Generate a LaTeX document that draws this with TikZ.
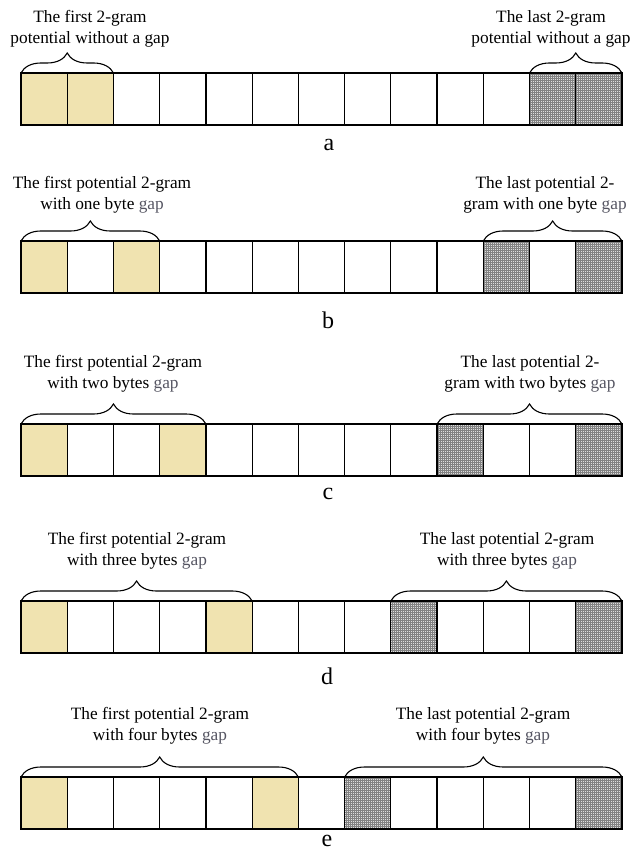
\documentclass[tikz,border=0pt]{standalone}
\usepackage{fontspec}
\setmainfont{Liberation Serif}
\usetikzlibrary{decorations.pathreplacing,patterns.meta}
\definecolor{beige}{RGB}{240,227,176}
\definecolor{gapc}{RGB}{85,85,98}
\definecolor{hatchbg}{RGB}{222,222,222}
\definecolor{hatchln}{RGB}{130,130,130}
\tikzset{
  cell/.style={draw=black, line width=1.2pt, minimum width=46.23pt, minimum height=52pt,
    inner sep=0pt, outer sep=0pt, anchor=north west},
  firstcell/.style={cell, fill=beige},
  lastcell/.style={cell, preaction={fill=hatchbg},
    pattern={Lines[angle=0,distance=2pt,line width=0.35pt]}, pattern color=hatchln,
    postaction={pattern={Lines[angle=90,distance=2pt,line width=0.35pt]}, pattern color=hatchln},
    postaction={draw=black, line width=1.2pt}},
  brc/.style={decorate, decoration={brace, amplitude=20pt}, line width=1.1pt},
  lbl/.style={font=\fontsize{17.3}{21.5}\selectfont, align=center, inner sep=0pt},
  sublbl/.style={font=\fontsize{24}{26}\selectfont, inner sep=0pt}
}
\newcommand{\gapw}{\textcolor{gapc}{gap}}
\newcommand{\byterow}[3]{%
  \foreach \i in {0,...,12}{%
    \pgfmathtruncatemacro\kind{(\i==0 || \i==#3+1) ? 1 : ((\i==12 || \i==11-#3) ? 2 : 0)}%
    \ifcase\kind
      \node[cell] (#1\i) at ({21pt+\i*46.23pt},{-#2pt}) {};
    \or
      \node[firstcell] (#1\i) at ({21pt+\i*46.23pt},{-#2pt}) {};
    \or
      \node[lastcell] (#1\i) at ({21pt+\i*46.23pt},{-#2pt}) {};
    \fi
  }%
}
\begin{document}
\begin{tikzpicture}
\useasboundingbox (0,0) rectangle (632pt,-858pt);

% row a
\byterow{a}{73}{0}
\draw[brc] (a0.north west) -- (a1.north east);
\draw[brc] (a11.north west) -- (a12.north east);
\node[lbl] (aft) at (90pt,-29pt) {The first 2-gram\\potential without a gap};
\node[lbl] (alt) at (551pt,-29pt) {The last 2-gram\\potential without a gap};
\node[sublbl] (alab) at (329pt,-145pt) {a};

% row b
\byterow{b}{241}{1}
\draw[brc] (b0.north west) -- (b2.north east);
\draw[brc] (b10.north west) -- (b12.north east);
\node[lbl] (bft) at (102pt,-195pt) {The first potential 2-gram\\with one byte \gapw};
\node[lbl] (blt) at (545pt,-195pt) {The last potential 2-\\gram with one byte \gapw};
\node[sublbl] (blab) at (328pt,-320pt) {b};

% row c
\byterow{c}{424}{2}
\draw[brc] (c0.north west) -- (c3.north east);
\draw[brc] (c9.north west) -- (c12.north east);
\node[lbl] (cft) at (113pt,-374pt) {The first potential 2-gram\\with two bytes \gapw};
\node[lbl] (clt) at (530pt,-374pt) {The last potential 2-\\gram with two bytes \gapw};
\node[sublbl] (clab) at (328pt,-494pt) {c};

% row d
\byterow{d}{601}{3}
\draw[brc] (d0.north west) -- (d4.north east);
\draw[brc] (d8.north west) -- (d12.north east);
\node[lbl] (dft) at (137pt,-551pt) {The first potential 2-gram\\with three bytes \gapw};
\node[lbl] (dlt) at (507pt,-551pt) {The last potential 2-gram\\with three bytes \gapw};
\node[sublbl] (dlab) at (327pt,-676pt) {d};

% row e
\byterow{e}{777}{4}
\draw[brc] (e0.north west) -- (e5.north east);
\draw[brc] (e7.north west) -- (e12.north east);
\node[lbl] (eft) at (160pt,-726pt) {The first potential 2-gram\\with four bytes \gapw};
\node[lbl] (elt) at (483pt,-726pt) {The last potential 2-gram\\with four bytes \gapw};
\node[sublbl] (elab) at (327pt,-841pt) {e};
\end{tikzpicture}
\end{document}
